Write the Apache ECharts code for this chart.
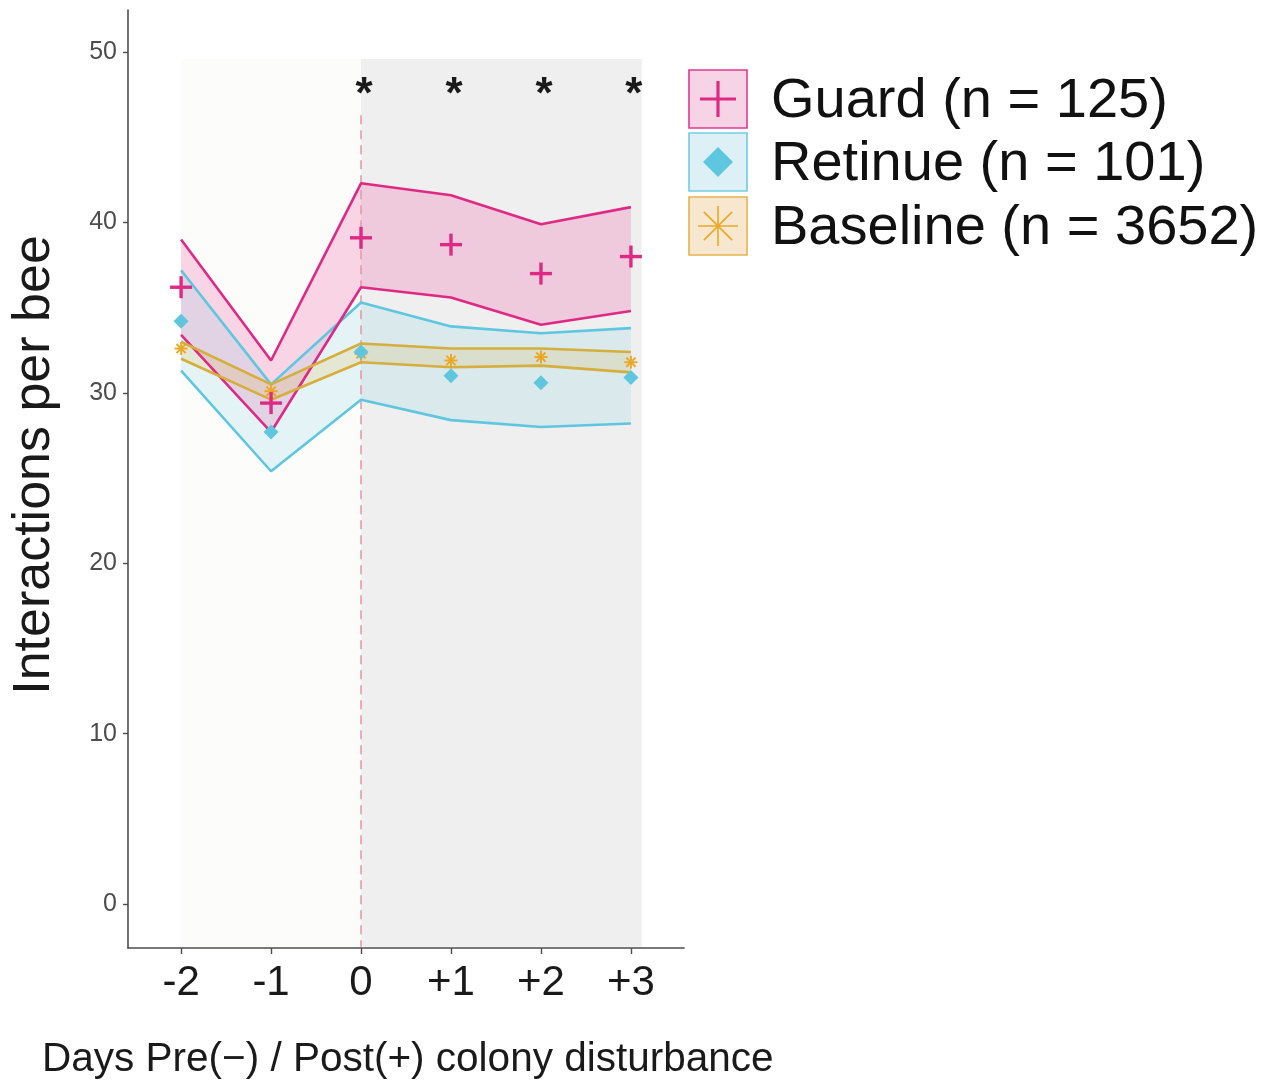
<!DOCTYPE html>
<html>
<head>
<meta charset="utf-8">
<script src="https://cdn.jsdelivr.net/npm/echarts@6/dist/echarts.min.js"></script>
<style>
  html, body { margin: 0; padding: 0; background: #ffffff; }
  #chart { width: 1271px; height: 1080px; }
</style>
</head>
<body>
<div id="chart"></div>
<script>
// Days relative to the colony disturbance
const days = [-2, -1, 0, 1, 2, 3];
const dayLabels = ['-2', '-1', '0', '+1', '+2', '+3'];
const yTicks = [0, 10, 20, 30, 40, 50];

// Guard bees: mean and confidence band
const guardMean  = [36.2, 29.4, 39.1, 38.7, 37.0, 38.0];
const guardLower = [33.4, 27.7, 36.2, 35.6, 34.0, 34.8];
const guardUpper = [39.0, 31.9, 42.3, 41.6, 39.9, 40.9];

// Retinue bees
const retinueMean  = [34.2, 27.7, 32.4, 31.0, 30.6, 30.9];
const retinueLower = [31.3, 25.4, 29.6, 28.4, 28.0, 28.2];
const retinueUpper = [37.2, 30.5, 35.3, 33.9, 33.5, 33.8];

// Baseline (all bees)
const baselineMean  = [32.6, 30.1, 32.3, 31.9, 32.1, 31.8];
const baselineLower = [32.0, 29.6, 31.8, 31.5, 31.6, 31.2];
const baselineUpper = [33.0, 30.5, 32.9, 32.6, 32.6, 32.4];

// Days with a significant difference
const sigDays = [0, 1, 2, 3];
const sigLevel = 48.1;

// Shaded periods: [start, end]
const prePeriod = [-2, 0];
const postPeriod = [0, 3.12];
const periodTop = 49.6;
const periodBottom = -2.5;

const legendNames = ['Guard (n = 125)', 'Retinue (n = 101)', 'Baseline (n = 3652)'];

const FONT = '"Liberation Sans", Arial, Helvetica, sans-serif';
const C_GUARD = '#de2a84';
const C_RET = '#5ec7df';
const C_BASE_LINE = '#d5ae3c';
const C_BASE_PT = '#eaa824';

const chart = echarts.init(document.getElementById('chart'), null, { renderer: 'canvas' });

function pairs(xs, ys) { return xs.map((x, i) => [x, ys[i]]); }

function bandSeries(lower, upper, fill) {
  return {
    type: 'custom',
    coordinateSystem: 'cartesian2d',
    silent: true,
    z: 2,
    data: days.map((d, i) => [d, lower[i], upper[i]]),
    encode: { x: 0, y: [1, 2] },
    renderItem: function (params, api) {
      if (params.dataIndex !== 0) return null;
      const top = days.map((d, i) => api.coord([d, upper[i]]));
      const bot = days.map((d, i) => api.coord([d, lower[i]])).reverse();
      return { type: 'polygon', shape: { points: top.concat(bot) }, style: { fill: fill } };
    }
  };
}

function lineSeries(ys, color, z) {
  return {
    type: 'line',
    data: pairs(days, ys),
    showSymbol: false,
    silent: true,
    z: z || 3,
    lineStyle: { color: color, width: 2.6 },
    animation: false
  };
}

function periodSeries() {
  const periods = [prePeriod, postPeriod];
  const fills = ['#fcfcfb', '#efefef'];
  return {
    type: 'custom',
    coordinateSystem: 'cartesian2d',
    silent: true,
    z: 1,
    data: periods.map(p => [p[0], p[1]]),
    encode: { x: [0, 1] },
    renderItem: function (params, api) {
      const p0 = api.coord([api.value(0), periodTop]);
      const p1 = api.coord([api.value(1), periodBottom]);
      return {
        type: 'rect',
        shape: { x: p0[0], y: p0[1], width: p1[0] - p0[0], height: p1[1] - p0[1] },
        style: { fill: fills[params.dataIndex] }
      };
    }
  };
}

function plusSeries(ys) {
  return {
    type: 'custom',
    coordinateSystem: 'cartesian2d',
    silent: true,
    z: 6,
    data: pairs(days, ys),
    renderItem: function (params, api) {
      const c = api.coord([api.value(0), api.value(1)]);
      const h = 11;
      const st = { stroke: C_GUARD, lineWidth: 3.4 };
      return {
        type: 'group',
        children: [
          { type: 'line', shape: { x1: c[0] - h, y1: c[1], x2: c[0] + h, y2: c[1] }, style: st },
          { type: 'line', shape: { x1: c[0], y1: c[1] - h, x2: c[0], y2: c[1] + h }, style: st }
        ]
      };
    }
  };
}

function starSeries(ys) {
  return {
    type: 'custom',
    coordinateSystem: 'cartesian2d',
    silent: true,
    z: 5,
    data: pairs(days, ys),
    renderItem: function (params, api) {
      const c = api.coord([api.value(0), api.value(1)]);
      const h = 6.5;
      const children = [];
      for (let k = 0; k < 4; k++) {
        const a = k * Math.PI / 4;
        const dx = Math.cos(a) * h, dy = Math.sin(a) * h;
        children.push({ type: 'line', shape: { x1: c[0] - dx, y1: c[1] - dy, x2: c[0] + dx, y2: c[1] + dy },
          style: { stroke: C_BASE_PT, lineWidth: 1.9 } });
      }
      return { type: 'group', children: children };
    }
  };
}

function sigSeries() {
  return {
    type: 'custom',
    coordinateSystem: 'cartesian2d',
    silent: true,
    z: 6,
    data: sigDays.map(d => [d, sigLevel]),
    renderItem: function (params, api) {
      const c = api.coord([api.value(0), api.value(1)]);
      return {
        type: 'text',
        x: c[0] + 3,
        y: c[1] + 11,
        style: { text: '*', fill: '#1a1a1a', font: 'bold 44px ' + FONT, textAlign: 'center', textVerticalAlign: 'middle' }
      };
    }
  };
}

// legend drawn as boxed keys
const legendRows = [
  { top: 70, fill: '#f7d4e5', stroke: '#e0398f' },
  { top: 133, fill: '#ddf0f6', stroke: '#74cbe0' },
  { top: 197, fill: '#f8e7cf', stroke: '#e5b34d' }
];
const legendGraphics = [];
legendRows.forEach((r, i) => {
  const cx = 718, cy = r.top + 29;
  legendGraphics.push({ type: 'rect', shape: { x: 689, y: r.top, width: 58, height: 58 },
    style: { fill: r.fill, stroke: r.stroke, lineWidth: 1.6 } });
  if (i === 0) {
    legendGraphics.push({ type: 'line', shape: { x1: cx - 18, y1: cy, x2: cx + 18, y2: cy }, style: { stroke: C_GUARD, lineWidth: 3.2 } });
    legendGraphics.push({ type: 'line', shape: { x1: cx, y1: cy - 18, x2: cx, y2: cy + 18 }, style: { stroke: C_GUARD, lineWidth: 3.2 } });
  } else if (i === 1) {
    legendGraphics.push({ type: 'polygon', shape: { points: [[cx, cy - 15], [cx + 15, cy], [cx, cy + 15], [cx - 15, cy]] },
      style: { fill: C_RET } });
  } else {
    for (let k = 0; k < 4; k++) {
      const a = k * Math.PI / 4;
      const dx = Math.cos(a) * 20, dy = Math.sin(a) * 20;
      legendGraphics.push({ type: 'line', shape: { x1: cx - dx, y1: cy - dy, x2: cx + dx, y2: cy + dy },
        style: { stroke: C_BASE_PT, lineWidth: 1.6 } });
    }
  }
  legendGraphics.push({ type: 'text', left: 771, top: cy - 25,
    style: { text: legendNames[i], fill: '#111111', font: '56px ' + FONT } });
});

const option = {
  backgroundColor: '#ffffff',
  animation: false,
  grid: { left: 128, right: 587, top: 10, bottom: 132, containLabel: false },
  xAxis: {
    type: 'value',
    min: -2.59,
    max: 3.59,
    splitLine: { show: false },
    axisLine: { show: true, onZero: false, lineStyle: { color: '#4d4d4d', width: 1.6 } },
    axisTick: { show: true, length: 6, customValues: days, lineStyle: { color: '#4d4d4d', width: 1.4 } },
    axisLabel: {
      customValues: days,
      margin: 14,
      color: '#1a1a1a',
      fontSize: 42,
      fontFamily: FONT,
      formatter: function (v) { const i = days.indexOf(Math.round(v)); return i >= 0 ? dayLabels[i] : ''; }
    }
  },
  yAxis: {
    type: 'value',
    min: -2.58,
    max: 52.47,
    splitLine: { show: false },
    axisLine: { show: true, onZero: false, lineStyle: { color: '#4d4d4d', width: 1.6 } },
    axisTick: { show: true, length: 5, customValues: yTicks, lineStyle: { color: '#4d4d4d', width: 1.4 } },
    axisLabel: { customValues: yTicks, margin: 11, color: '#4d4d4d', fontSize: 25, fontFamily: FONT }
  },
  graphic: [
    { type: 'text', left: 42, top: 1039,
      style: { text: 'Days Pre(\u2212) / Post(+) colony disturbance', fill: '#1a1a1a', font: '40.5px ' + FONT } },
    { type: 'text', x: 35, y: 465, rotation: Math.PI / 2,
      style: { text: 'Interactions per bee', fill: '#1a1a1a', font: '52px ' + FONT, textAlign: 'center', textVerticalAlign: 'middle' } }
  ].concat(legendGraphics),
  series: [
    periodSeries(),
    {
      type: 'line',
      data: [[0, 46.3], [0, periodBottom]],
      showSymbol: false,
      silent: true,
      z: 2,
      lineStyle: { color: '#e49aa8', width: 1.6, type: [9, 6] }
    },
    bandSeries(guardLower, guardUpper, 'rgba(232, 40, 140, 0.19)'),
    bandSeries(retinueLower, retinueUpper, 'rgba(94, 199, 223, 0.15)'),
    bandSeries(baselineLower, baselineUpper, 'rgba(226, 170, 40, 0.16)'),
    lineSeries(retinueUpper, C_RET),
    lineSeries(retinueLower, C_RET),
    lineSeries(baselineUpper, C_BASE_LINE, 4),
    lineSeries(baselineLower, C_BASE_LINE, 4),
    lineSeries(guardUpper, C_GUARD),
    lineSeries(guardLower, C_GUARD),
    {
      type: 'scatter',
      data: pairs(days, retinueMean),
      symbol: 'diamond',
      symbolSize: 15,
      silent: true,
      z: 5,
      itemStyle: { color: C_RET, opacity: 1 }
    },
    starSeries(baselineMean),
    plusSeries(guardMean),
    sigSeries()
  ]
};

chart.setOption(option);
</script>
</body>
</html>
